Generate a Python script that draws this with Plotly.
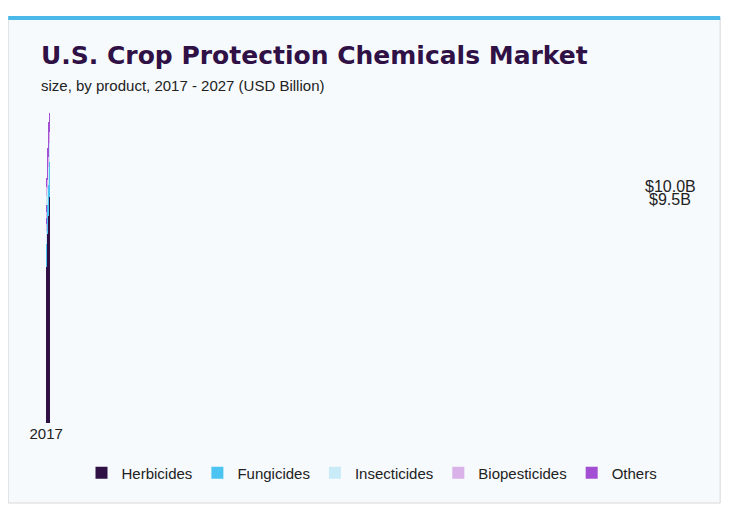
import plotly.graph_objects as go

years = ["2017","2018","2019","2020","2021","2022","2023","2024","2025","2026","2027"]
herbicides = [7.23,7.69,8.53,8.76,9.04,9.31,9.59,9.82,10.10,10.43,10.70]
fungicides = [1.07,1.07,1.30,1.34,1.39,1.39,1.44,1.53,1.58,1.62,1.71]
insecticides = [0.60,0.70,0.65,0.70,0.70,0.79,0.79,0.83,0.83,0.88,0.93]
biopesticides = [0.32,0.32,0.42,0.42,0.42,0.42,0.46,0.46,0.51,0.51,0.56]
others = [0.28,0.32,0.42,0.42,0.42,0.42,0.42,0.46,0.46,0.46,0.42]
labels = ["$9.5B", "$10.0B"]

series = [("Herbicides", herbicides, "#2f1145"), ("Fungicides", fungicides, "#4cc4f2"),
          ("Insecticides", insecticides, "#c9ebf8"), ("Biopesticides", biopesticides, "#d8b2e8"),
          ("Others", others, "#a34fd4")]

fig = go.Figure()
for name, vals, col in series:
    fig.add_bar(x=years, y=vals, name=name, marker_color=col, marker_line_width=0)

totals = [sum(v) for v in zip(herbicides, fungicides, insecticides, biopesticides, others)]
for i, lab in enumerate(labels):
    fig.add_annotation(x=years[i], y=totals[i], text=lab, showarrow=False, yanchor="bottom",
                       xshift=-8, yshift=8, font=dict(size=16, color="#222"))

fig.add_shape(type="rect", xref="paper", yref="paper", x0=-0.058, x1=1.034, y0=-0.25, y1=1.266,
              fillcolor="#f6fafd", line=dict(color="#d8d8d8", width=1), layer="below")
fig.add_shape(type="line", xref="paper", yref="paper", x0=-0.058, x1=1.034, y0=1.266, y1=1.266,
              line=dict(color="#4ab8e8", width=4))

fig.update_layout(
    width=730, height=505, barmode="stack", bargap=0.42,
    paper_bgcolor="white", plot_bgcolor="rgba(0,0,0,0)",
    margin=dict(l=38, r=40, t=95, b=90),
    font=dict(family="Liberation Sans, Arial", color="#222"),
    xaxis=dict(type="category", showgrid=False, tickfont=dict(size=15), ticks="", showline=False),
    yaxis=dict(visible=False, range=[0, 14.8]),
    legend=dict(orientation="h", x=0.5, xanchor="center", y=-0.156, yanchor="middle",
                font=dict(size=15), traceorder="normal", bgcolor="rgba(0,0,0,0)"),
    showlegend=True,
)
fig.add_annotation(xref="paper", yref="paper", x=-0.01, y=1.15, xanchor="left", yanchor="middle",
                   text="<b>U.S. Crop Protection Chemicals Market</b>", showarrow=False,
                   font=dict(size=25, color="#2f1145", family="DejaVu Sans, Arial"))
fig.add_annotation(xref="paper", yref="paper", x=-0.01, y=1.056, xanchor="left", yanchor="middle",
                   text="size, by product, 2017 - 2027 (USD Billion)", showarrow=False,
                   font=dict(size=15, color="#222"))
fig.write_html("out.html")
